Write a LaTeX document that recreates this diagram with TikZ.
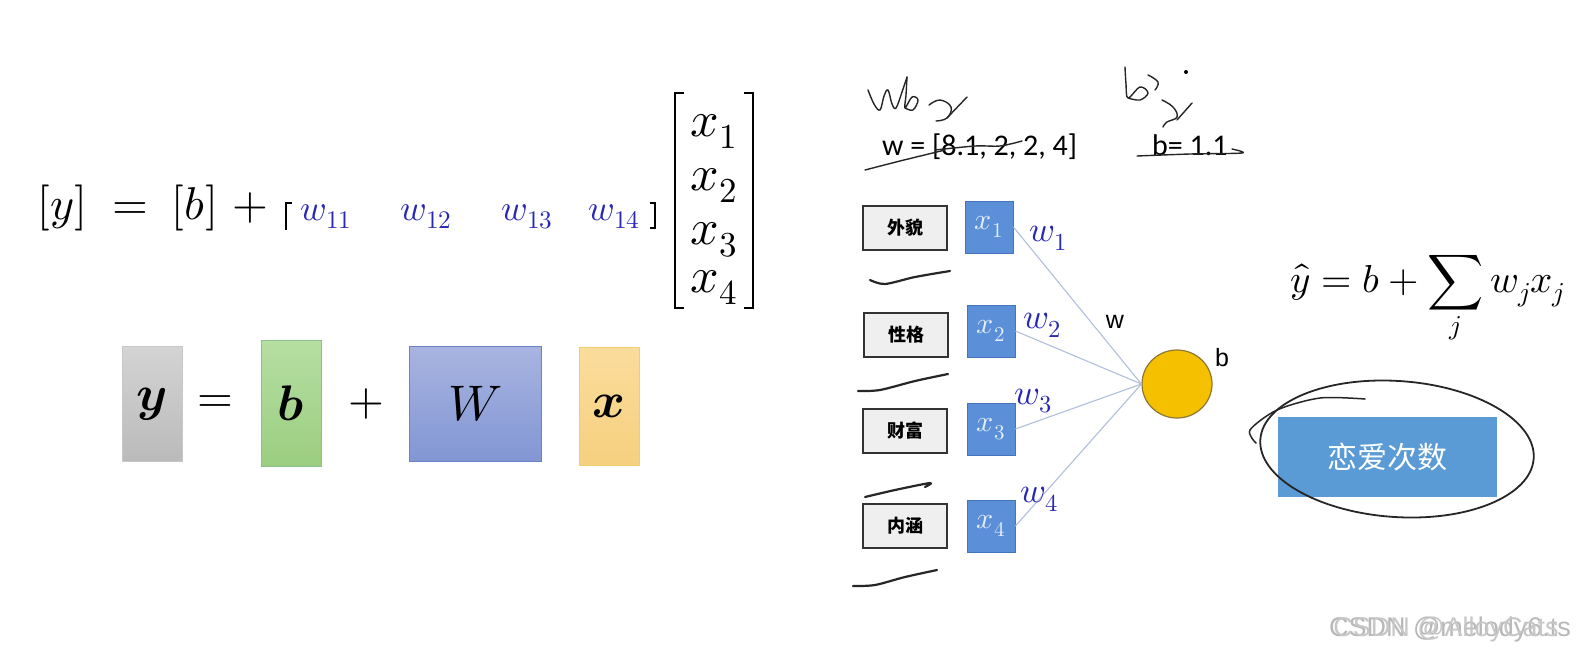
\documentclass[tikz,border=0pt]{standalone}
\usepackage{amsmath}
\usepackage{fontspec}
\usepackage{unicode-math}
\setmathfont{Latin Modern Math}
\setsansfont{Liberation Sans}
\newfontfamily\cjk{Noto Sans CJK SC}
\newfontfamily\carl{Carlito}
\usetikzlibrary{shapes.geometric}
\definecolor{wblue}{RGB}{40,40,180}
\definecolor{xfill}{RGB}{91,143,216}
\definecolor{xdraw}{RGB}{70,115,190}
\definecolor{lblfill}{RGB}{239,239,239}
\definecolor{wline}{RGB}{176,192,220}
\definecolor{gold}{RGB}{245,192,0}
\definecolor{golddraw}{RGB}{140,120,50}
\definecolor{lovefill}{RGB}{91,155,213}
\newcommand{\fsz}[1]{\fontsize{#1}{#1}\selectfont}
\tikzset{
  mtext/.style={inner sep=0pt, anchor=base, font=\fsz{46}},
  wtext/.style={inner sep=0pt, anchor=base, text=wblue, font=\fsz{36}},
  vtext/.style={inner sep=0pt, anchor=base, font=\fsz{50}},
  bigbr/.style={line width=2.6pt},
  smallbr/.style={line width=1.4pt},
  lbl/.style={draw=black!80, line width=1.4pt, fill=lblfill, minimum width=84pt, minimum height=44pt, inner sep=0pt, font=\cjk\bfseries\fsz{18}},
  xbox/.style={draw=xdraw, line width=0.8pt, fill=xfill, minimum width=48pt, minimum height=52pt, inner sep=0pt, text=white!85!xfill, font=\fsz{30}},
  wconn/.style={draw=wline, line width=1.1pt},
  wlab/.style={text=wblue, inner sep=0pt, font=\fsz{35}},
  neuron/.style={ellipse, draw=golddraw, line width=1.2pt, fill=gold, minimum width=70pt, minimum height=68pt, inner sep=0pt},
  love/.style={fill=lovefill, minimum width=219pt, minimum height=80pt, inner sep=0pt, text=white, font=\cjk\fsz{30}},
  hand/.style={line width=2.2pt, line cap=round, line join=round, black!85},
  thinhand/.style={line width=1.4pt, line cap=round, line join=round, black!85},
  sans/.style={inner sep=0pt, font=\sffamily\fsz{25}},
  colbox/.style={minimum width=60pt, inner sep=0pt, line width=0.8pt},
}
\begin{document}
\begin{tikzpicture}[x=1pt,y=-1pt]
\useasboundingbox (0,0) rectangle (1584,657);
\fill[white] (0,0) rectangle (1584,657);

% ---------- first equation ----------
\node[mtext] (ybr) at (62,219) {$[y]$};
\node[mtext] (eq1) at (130,219) {$=$};
\node[mtext] (bbr) at (195,219) {$[b]$};
\node[mtext] (pl1) at (250,219) {$+$};
\draw[smallbr] (292,203) -- (286,203) -- (286,230);
\node[wtext] (w11) at (326,220) {$w_{11}$};
\node[wtext] (w12) at (426,220) {$w_{12}$};
\node[wtext] (w13) at (527,220) {$w_{13}$};
\node[wtext] (w14) at (614,220) {$w_{14}$};
\draw[smallbr] (650,203) -- (655,203) -- (655,228) -- (650,228);
\draw[bigbr] (684,93) -- (675,93) -- (675,308) -- (684,308);
\draw[bigbr] (744,93) -- (753,93) -- (753,308) -- (744,308);
\node[vtext] (v1) at (714,136) {$x_1$};
\node[vtext] (v2) at (714,190) {$x_2$};
\node[vtext] (v3) at (714,244) {$x_3$};
\node[vtext] (v4) at (714,292) {$x_4$};

% ---------- coloured boxes ----------
\node[colbox, minimum height=115pt, draw=black!22, top color=black!17, bottom color=black!27] (by) at (152,404) {\fsz{50}$\symbfit{y}$};
\node[mtext, anchor=center] (eq2) at (215,404) {$=$};
\node[colbox, minimum height=126pt, draw=green!45!black!45, top color={rgb,255:red,182;green,222;blue,162}, bottom color={rgb,255:red,155;green,206;blue,128}] (bb) at (291,403) {\fsz{50}$\symbfit{b}$};
\node[mtext, anchor=center] (pl2) at (366,404) {$+$};
\node[colbox, minimum width=132pt, minimum height=115pt, draw={rgb,255:red,110;green,128;blue,200}, top color={rgb,255:red,168;green,180;blue,224}, bottom color={rgb,255:red,130;green,150;blue,212}] (bW) at (475,404) {\fsz{50}$W$};
\node[colbox, minimum height=118pt, draw={rgb,255:red,242;green,205;blue,110}, top color={rgb,255:red,250;green,220;blue,155}, bottom color={rgb,255:red,246;green,208;blue,128}] (bx) at (609,406) {\fsz{50}$\symbfit{x}$};

% ---------- handwriting on top ----------
\draw[thinhand] plot[smooth, tension=0.6] coordinates {(868,90) (874,104) (880,110) (884,96) (888,90) (892,104) (896,108) (902,92) (907,77)};
\draw[thinhand] plot[smooth, tension=0.6] coordinates {(907,77) (906,95) (905,108) (912,97) (918,100) (913,110) (905,108)};
\draw[thinhand] plot[smooth, tension=0.7] coordinates {(929,105) (940,100) (951,107) (947,118) (936,121)};
\draw[thinhand] (947,118) -- (967,97);
\node[anchor=base west, inner sep=0pt, font=\carl\fsz{30}] (wvec) at (882,155) {w = [8.1, 2, 2, 4]};
\node[anchor=base west, inner sep=0pt, font=\carl\fsz{30}] (bval) at (1152,155) {b= 1.1};
\draw[thinhand] plot[smooth] coordinates {(935,150) (975,146) (1000,146) (1022,141)};
\draw[thinhand] plot[smooth] coordinates {(865,170) (900,161) (945,150)};
\draw[thinhand] plot[smooth] coordinates {(1137,156) (1190,154) (1242,153) (1232,149)};
\draw[thinhand] plot[smooth, tension=0.6] coordinates {(1125,67) (1126,84) (1128,98) (1140,87) (1148,93) (1140,100) (1128,98)};
\draw[thinhand] plot[smooth, tension=0.7] coordinates {(1148,75) (1158,82) (1155,90)};
\draw[thinhand] plot[smooth, tension=0.7] coordinates {(1162,100) (1173,107) (1177,117) (1167,122) (1163,127)};
\draw[thinhand] (1177,120) -- (1192,103);
\fill[black] (1186,72) circle (2pt);

% ---------- network ----------
\node[lbl] (l1) at (905,228) {外貌};
\node[lbl] (l2) at (906,335) {性格};
\node[lbl] (l3) at (905,431) {财富};
\node[lbl] (l4) at (905,526) {内涵};
\node[xbox] (x1) at (989,227) {$x_1$};
\node[xbox] (x2) at (991,331) {$x_2$};
\node[xbox] (x3) at (991,429) {$x_3$};
\node[xbox] (x4) at (991,526) {$x_4$};
\node[neuron] (n) at (1177,384) {};
\draw[wconn] (x1.east) -- (n.west);
\draw[wconn] (x2.east) -- (n.west);
\draw[wconn] (x3.east) -- (n.west);
\draw[wconn] (x4.east) -- (n.west);
\node[wlab] (lw1) at (1048,238) {$w_1$};
\node[wlab] (lw2) at (1042,325) {$w_2$};
\node[wlab] (lw3) at (1033,401) {$w_3$};
\node[wlab] (lw4) at (1039,499) {$w_4$};
\node[sans] (lw) at (1115,322) {w};
\node[sans] (lb) at (1222,358) {b};

\draw[hand] plot[smooth] coordinates {(870,280) (885,284) (915,277) (950,271)};
\draw[hand] plot[smooth] coordinates {(858,391) (880,390) (915,381) (948,374)};
\draw[hand] plot[smooth] coordinates {(865,497) (895,490) (930,483) (925,487)};
\draw[hand] plot[smooth] coordinates {(853,586) (875,585) (905,577) (937,570)};

% ---------- right formula ----------
\node[anchor=base west, inner sep=0pt, font=\fsz{39}] (yhat) at (1290,292) {$\displaystyle \hat{y} = b + \sum_{j} w_j x_j$};
\node[love] (love) at (1387,457) {恋爱次数};
\draw[hand, line width=1.8pt, rotate around={-4:(1397,449)}] (1397,449) ellipse [x radius=137, y radius=68];
\draw[hand, line width=1.5pt] plot[smooth] coordinates {(1365,399) (1320,398) (1277,410) (1250,430) (1256,443)};

% ---------- watermark ----------
\node[font=\sffamily\fsz{27}, text=black!28, inner sep=0pt] (wm1) at (1450,630) {CSDN @melody6.ts};
\node[font=\sffamily\fsz{27}, text=black!22, inner sep=0pt] (wm2) at (1446,630) {CSDN @AlloyCats};
\end{tikzpicture}
\end{document}
